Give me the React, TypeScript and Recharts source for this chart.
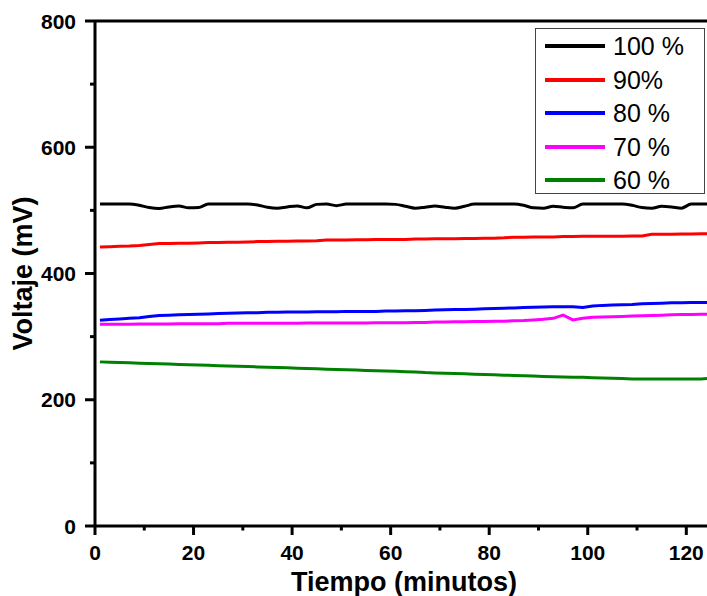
import React from 'react';
import { LineChart, Line, XAxis, YAxis, ReferenceLine } from 'recharts';

const times = [1, 3, 5, 7, 9, 11, 13, 15, 17, 19, 21, 23, 25, 27, 29, 31, 33, 35, 37, 39, 41, 43, 45, 47, 49, 51, 53, 55, 57, 59, 61, 63, 65, 67, 69, 71, 73, 75, 77, 79, 81, 83, 85, 87, 89, 91, 93, 95, 97, 99, 101, 103, 105, 107, 109, 111, 113, 115, 117, 119, 121, 123, 124.2];

const v100 = [510, 510, 510, 510, 508, 504.5, 503, 505.5, 507, 504, 504.5, 510, 510, 510, 510, 510, 508.5, 505, 503.5, 505.5, 507, 504, 509.5, 510, 507.5, 510, 510, 510, 510, 510, 509.5, 506.5, 503.5, 505, 507, 505, 503.5, 506.5, 510, 510, 510, 510, 510, 508, 504, 503.5, 506.5, 505, 504, 510, 510, 510, 510, 510, 508, 504.5, 503.5, 506.5, 505.5, 503.5, 510, 510, 510];

const v90 = [442, 442.5, 443, 443.5, 444.5, 446, 447.5, 447.5, 448, 448, 448.5, 449, 449, 449.5, 449.5, 450, 450.5, 450.5, 451, 451, 451.5, 451.5, 452, 453, 453, 453, 453.5, 453.5, 454, 454, 454, 454, 454.5, 454.5, 455, 455, 455, 455.5, 455.5, 456, 456, 456.5, 457.5, 457.5, 458, 458, 458, 458.5, 458.5, 459, 459, 459, 459, 459, 459.5, 459.5, 462, 462, 462, 462.5, 462.5, 463, 463];

const v80 = [326, 327, 328, 329, 330, 332, 333.5, 334, 334.5, 335, 335.5, 336, 336.5, 337, 337.5, 338, 338, 338.5, 338.5, 339, 339, 339, 339.5, 339.5, 339.5, 340, 340, 340, 340, 340.5, 340.5, 341, 341, 341.5, 342, 342.5, 343, 343, 343.5, 344, 344.5, 345, 345.5, 346, 346.5, 347, 347.5, 347.5, 347.5, 346, 348.5, 349.5, 350, 350.5, 351, 352, 352.5, 353, 353.5, 353.5, 354, 354, 354];

const v70 = [319.5, 319.5, 319.5, 319.5, 320, 320, 320, 320, 320.5, 320.5, 320.5, 320.5, 320.5, 321, 321, 321, 321, 321, 321, 321, 321, 321.5, 321.5, 321.5, 321.5, 321.5, 321.5, 321.5, 322, 322, 322, 322, 322.5, 322.5, 323, 323, 323.5, 323.5, 324, 324, 324.5, 324.5, 325, 325.5, 326.5, 327.5, 329, 334, 326.5, 329, 330.5, 331, 331.5, 332, 332.5, 333, 333.5, 334, 334.5, 335, 335, 335.5, 335.5];

const v60 = [260, 259.5, 259, 258.5, 258, 257.5, 257, 256.5, 256, 255.5, 255, 254.5, 254, 253.5, 253, 252.5, 252, 251.5, 251, 250.5, 250, 249.5, 249, 248.5, 248, 247.5, 247, 246.5, 246, 245.5, 245, 244.5, 244, 243, 242.5, 242, 241.5, 241, 240.5, 240, 239.5, 239, 238.5, 238, 237.5, 237, 236.5, 236, 235.5, 235.5, 235, 234.5, 234, 233.5, 233, 233, 233, 233, 233, 233, 233, 233, 233.5];

const seriesKeys = ['s100', 's90', 's80', 's70', 's60'];
const seriesNames = ['100 %', '90%', '80 %', '70 %', '60 %'];
const seriesColors = ['#000000', '#FF0000', '#0000FF', '#FF00FF', '#008000'];
const seriesValues = [v100, v90, v80, v70, v60];

const xTicks = [0, 10, 20, 30, 40, 50, 60, 70, 80, 90, 100, 110, 120];
const yTicks = [0, 100, 200, 300, 400, 500, 600, 700, 800];

const data = times.map((t, i) => {
  const row: Record<string, number> = { t };
  seriesKeys.forEach((k, j) => {
    row[k] = seriesValues[j][i];
  });
  return row;
});

const FONT = "'Liberation Sans', Arial, Helvetica, sans-serif";

const XTick = (props: any) => {
  const { x, y, payload } = props;
  const major = payload.value % 20 === 0;
  return (
    <g>
      <line x1={x} x2={x} y1={y} y2={y + (major ? 9 : 4.5)} stroke="#000" strokeWidth={3} />
      {major && (
        <text x={x} y={y + 34} textAnchor="middle" fontFamily={FONT} fontWeight="bold" fontSize={21} fill="#000">
          {payload.value}
        </text>
      )}
    </g>
  );
};

const YTick = (props: any) => {
  const { x, y, payload } = props;
  const major = payload.value % 200 === 0;
  return (
    <g>
      <line x1={x - (major ? 10 : 5)} x2={x} y1={y} y2={y} stroke="#000" strokeWidth={3} />
      {major && (
        <text x={x - 19} y={y + 7.5} textAnchor="end" fontFamily={FONT} fontWeight="bold" fontSize={21} fill="#000">
          {payload.value}
        </text>
      )}
    </g>
  );
};

const YLabel = (props: any) => {
  const vb = props.viewBox || { x: 0, y: 21, width: 95, height: 505 };
  const cx = 32;
  const cy = vb.y + vb.height / 2;
  return (
    <text x={cx} y={cy} transform={`rotate(-90, ${cx}, ${cy})`} textAnchor="middle" fontFamily={FONT} fontWeight="bold" fontSize={27} fill="#000">
      Voltaje (mV)
    </text>
  );
};

const XLabel = (props: any) => {
  const vb = props.viewBox || { x: 95, y: 526, width: 612, height: 70 };
  const cx = vb.x + vb.width / 2 + 3;
  return (
    <text x={cx} y={591} textAnchor="middle" fontFamily={FONT} fontWeight="bold" fontSize={27} fill="#000">
      Tiempo (minutos)
    </text>
  );
};

export default function App() {
  return (
    <div style={{ position: 'absolute', left: 0, top: 0, width: 707, height: 596, background: '#fff' }}>
      <LineChart width={707} height={596} data={data} margin={{ top: 21, right: 0, bottom: 0, left: 0 }}>
        <XAxis
          type="number"
          dataKey="t"
          domain={[0, 124.2]}
          ticks={xTicks}
          interval={0}
          allowDataOverflow
          height={70}
          tickSize={0}
          tickMargin={0}
          tickLine={false}
          tick={<XTick />}
          axisLine={{ stroke: '#000', strokeWidth: 3 }}
          label={<XLabel />}
        />
        <YAxis
          type="number"
          domain={[0, 800]}
          ticks={yTicks}
          interval={0}
          width={95}
          tickSize={0}
          tickMargin={0}
          tickLine={false}
          tick={<YTick />}
          axisLine={{ stroke: '#000', strokeWidth: 3 }}
          label={<YLabel />}
        />
        <ReferenceLine y={800} stroke="#000" strokeWidth={3} />
        {seriesKeys.map((k, j) => (
          <Line
            key={k}
            type={j === 0 ? 'monotone' : 'linear'}
            dataKey={k}
            name={seriesNames[j]}
            stroke={seriesColors[j]}
            strokeWidth={3}
            dot={false}
            isAnimationActive={false}
          />
        ))}
      </LineChart>
      <div
        style={{
          position: 'absolute',
          left: 535,
          top: 28,
          width: 170,
          height: 166,
          border: '1px solid #444',
          boxSizing: 'border-box',
          background: '#fff',
        }}
      >
        {seriesNames.map((n, i) => (
          <div key={n} style={{ position: 'absolute', left: 0, top: 17 + i * 33.5 - 14, height: 28, width: 168 }}>
            <div style={{ position: 'absolute', left: 9, top: 12, width: 60, height: 4, background: seriesColors[i] }} />
            <span
              style={{
                position: 'absolute',
                left: 77,
                top: 0,
                lineHeight: '28px',
                fontSize: 25,
                fontFamily: FONT,
                color: '#000',
                whiteSpace: 'nowrap',
              }}
            >
              {n}
            </span>
          </div>
        ))}
      </div>
    </div>
  );
}
